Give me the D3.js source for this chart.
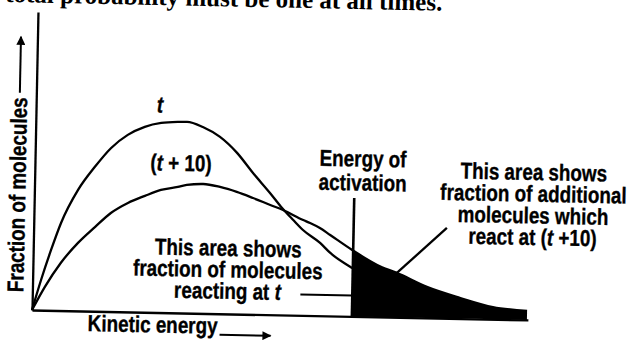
<!DOCTYPE html>
<html>
<head>
<meta charset="utf-8">
<script src="https://cdn.jsdelivr.net/npm/d3@7"></script>
<style>
  html, body { margin: 0; padding: 0; background: #fff; }
  svg { display: block; }
  text.lbl { font-family: "Liberation Sans", Arial, sans-serif; font-weight: bold; font-size: 23px; fill: #000; stroke: #000; stroke-width: 0.35px; }
</style>
</head>
<body>
<svg id="chart" width="628" height="340"></svg>
<script>
// Maxwell–Boltzmann style distributions at temperature t and t + 10
// (kinetic energy in arbitrary units, fraction of molecules in arbitrary units)
const tEnergy   = [0, 1.7, 3.6, 5.5, 8.8, 12.1, 15.3, 18.6, 22.0, 25.3, 28.7, 30.5, 33.7, 37.2, 40.7, 44.0, 47.5, 50.0, 52.3, 54.3, 57.8, 59.9, 64.4, 70, 76, 82, 88, 94, 99.8];
const tFraction = [0, 15.1, 30.2, 43.8, 60.5, 72.2, 81.8, 88.5, 92.7, 94.8, 95.5, 95.6, 93.2, 88.4, 80.6, 70.7, 60.9, 53.5, 47.6, 42.7, 36.4, 31.5, 24.2, 17.5, 12, 8, 5.5, 4, 3];

const t10Energy   = [0, 2.5, 5.6, 9.0, 12.4, 15.5, 18.9, 22.3, 25.5, 28.9, 30.7, 34.0, 37.4, 40.8, 44.1, 47.6, 50.2, 54.3, 55.7, 57.7, 59.8, 64.3, 69.4, 73.4, 79.5, 86.3, 92.9, 99.8];
const t10Fraction = [0, 11.7, 23.8, 34.0, 42.2, 49.3, 54.5, 58.2, 61.3, 63.0, 64.1, 64.7, 63.4, 61.1, 58.2, 54.9, 52.5, 47.7, 46.3, 43.9, 40.5, 33.2, 26.0, 22.2, 15.5, 10.3, 6.1, 4.5];

const activationEnergy = 64.5;
const energyMax = 100;
const fractionMax = 149;

const curveLabels = ["t", "(t + 10)"];
const activationLabel = ["Energy of", "activation"];
const leftNote = ["This area shows", "fraction of molecules", "reacting at t"];
const rightNote = ["This area shows", "fraction of additional", "molecules which", "react at (t +10)"];
const xTitle = "Kinetic energy";
const yTitle = "Fraction of molecules";
const headerText = "total probability must be one at all times.";

const svg = d3.select("#chart");

// the printed page sits slightly turned, so the whole figure is tilted a little
const origin = [32, 310];
const root = svg.append("g").attr("transform", `rotate(1.15, ${origin[0]}, ${origin[1]})`);

const x = d3.scaleLinear().domain([0, energyMax]).range([32, 528]);
const y = d3.scaleLinear().domain([0, fractionMax]).range([310, 12]);

const defs = svg.append("defs");
const marker = defs.append("marker")
  .attr("id", "head")
  .attr("viewBox", "0 0 10 10")
  .attr("refX", 9).attr("refY", 5)
  .attr("markerWidth", 14).attr("markerHeight", 9)
  .attr("markerUnits", "userSpaceOnUse")
  .attr("orient", "auto");
marker.append("path").attr("d", "M0,0L10,5L0,10Z").attr("fill", "#000");

// last line of the page text above the figure
root.append("text")
  .attr("x", -1).attr("y", 2.5)
  .style("font-family", "'Liberation Serif', 'Times New Roman', serif")
  .style("font-weight", "bold")
  .style("font-size", "25px")
  .text(headerText);

const pts = (xs, ys) => xs.map((e, i) => [e, ys[i]]);
const tData = pts(tEnergy, tFraction);
const t10Data = pts(t10Energy, t10Fraction);

// shaded tail beyond the activation energy
defs.append("clipPath").attr("id", "tail")
  .append("rect")
  .attr("x", x(activationEnergy)).attr("y", 0)
  .attr("width", x(energyMax) - x(activationEnergy) + 2).attr("height", 400);

const area = d3.area()
  .x(d => x(d[0])).y0(y(0)).y1(d => y(d[1]))
  .curve(d3.curveMonotoneX);

root.append("path")
  .datum(t10Data)
  .attr("d", area)
  .attr("clip-path", "url(#tail)")
  .attr("fill", "#000");

const line = d3.line().x(d => x(d[0])).y(d => y(d[1])).curve(d3.curveMonotoneX);

root.selectAll("path.dist")
  .data([tData, t10Data])
  .join("path")
  .attr("class", "dist")
  .attr("d", line)
  .attr("fill", "none")
  .attr("stroke", "#000")
  .attr("stroke-width", 2.3);

// axes without ticks
const xAxis = root.append("g").attr("transform", `translate(0,${y(0)})`)
  .call(d3.axisBottom(x).tickValues([]).tickSizeOuter(0));
const yAxis = root.append("g").attr("transform", `translate(${x(0)},0)`)
  .call(d3.axisLeft(y).tickValues([]).tickSizeOuter(0));
[xAxis, yAxis].forEach(g => g.select(".domain").attr("stroke", "#000").attr("stroke-width", 2.3));

// activation energy marker
root.append("line")
  .attr("x1", x(activationEnergy)).attr("x2", x(activationEnergy))
  .attr("y1", y(0)).attr("y2", y(59.2))
  .attr("stroke", "#000").attr("stroke-width", 2.6);

// condensed bold label; a standalone "t" is set in italics
function label(str, px, py, anchor = "middle", rotate = 0) {
  const el = root.append("text")
    .attr("class", "lbl")
    .attr("text-anchor", anchor)
    .attr("transform", `translate(${px},${py}) rotate(${rotate}) scale(0.82,1)`);
  str.split(/(\bt\b)/).forEach(p => {
    if (!p) return;
    const span = el.append("tspan").text(p);
    if (p === "t") span.style("font-style", "italic");
  });
  return el;
}

// curve labels
label(curveLabels[0], 156, 110);
label(curveLabels[1], 178, 168);

// activation energy label
activationLabel.forEach((s, i) => label(s, 360, 160 + i * 24));

// left note and its pointer
leftNote.forEach((s, i) => label(s, 227, 252 + i * 21.5));
root.append("line")
  .attr("x1", 300).attr("x2", x(activationEnergy))
  .attr("y1", y(10.5)).attr("y2", y(10.5))
  .attr("stroke", "#000").attr("stroke-width", 2);

// right note and its pointer
rightNote.forEach((s, i) => label(s, 531, 170 + i * 21.7));
root.append("line")
  .attr("x1", x(83.3)).attr("y1", y(45.2))
  .attr("x2", x(73.4)).attr("y2", y(22.2))
  .attr("stroke", "#000").attr("stroke-width", 2.3);

// axis titles with arrows
label(xTitle, 88, 330, "start");
root.append("line")
  .attr("x1", 220).attr("x2", 271).attr("y1", 331).attr("y2", 331)
  .attr("stroke", "#000").attr("stroke-width", 2)
  .attr("marker-end", "url(#head)");

label(yTitle, 23, 195, "middle", -90);
root.append("line")
  .attr("x1", 15.5).attr("x2", 15.5).attr("y1", 93).attr("y2", 37)
  .attr("stroke", "#000").attr("stroke-width", 2)
  .attr("marker-end", "url(#head)");
</script>
</body>
</html>
